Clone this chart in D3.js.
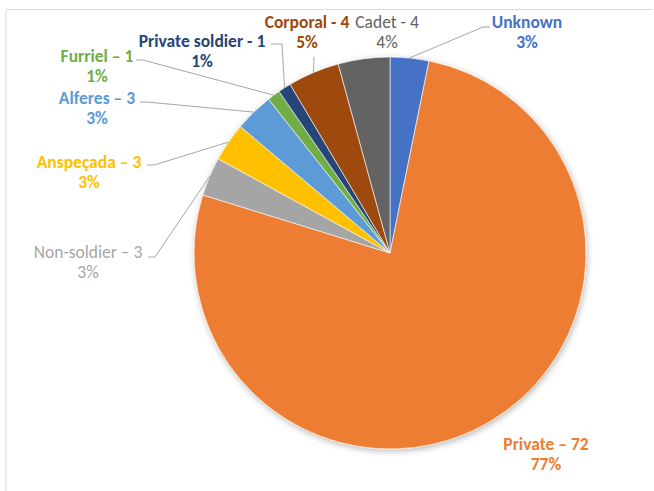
<!DOCTYPE html>
<html>
<head>
<meta charset="utf-8">
<script src="https://cdn.jsdelivr.net/npm/d3@7"></script>
<style>
  body { margin: 0; background: #fff; }
  text { font-family: Carlito, "Liberation Sans Narrow", "Open Sans", sans-serif; font-size: 17.5px; }
</style>
</head>
<body>
<div id="chart"></div>
<script>
// data, clockwise from 12 o'clock
var categories = ["Unknown", "Private", "Non-soldier", "Anspeçada", "Alferes", "Furriel", "Private soldier", "Corporal", "Cadet"];
var values = [3, 72, 3, 3, 3, 1, 1, 4, 4];
var name_labels = ["Unknown", "Private – 72", "Non-soldier – 3", "Anspeçada – 3", "Alferes – 3", "Furriel – 1", "Private soldier - 1", "Corporal - 4", "Cadet - 4"];
var pct_labels = ["3%", "77%", "3%", "3%", "3%", "1%", "1%", "5%", "4%"];
var colors = ["#4472C4", "#ED7D31", "#A5A5A5", "#FFC000", "#5B9BD5", "#70AD47", "#264478", "#9E480E", "#636363"];

// label placement (centre of first line) and leader line start
var label_pos = {
  "Unknown":         {x: 527, y: 22, bold: true,  lead: [[490, 27], [483, 27]]},
  "Private":         {x: 546, y: 444, bold: true, lead: null},
  "Non-soldier":     {x: 88,  y: 252, bold: false, lead: [[148, 257], [155, 257]]},
  "Anspeçada":       {x: 89,  y: 162, bold: true, lead: [[147, 165], [154, 165]]},
  "Alferes":         {x: 97,  y: 98,  bold: true, lead: [[140, 102], [147, 102]]},
  "Furriel":         {x: 97,  y: 56,  bold: true, lead: [[136, 60], [143, 60]]},
  "Private soldier": {x: 202, y: 41,  bold: true, lead: [[271, 44], [282, 44]]},
  "Corporal":        {x: 307, y: 22,  bold: true, lead: [[314, 57]]},
  "Cadet":           {x: 387, y: 22,  bold: false, lead: null}
};
var line_gap = 20;

var width = 654, height = 491;
var cx = 390, cy = 253, radius = 196;

var svg = d3.select("#chart").append("svg")
    .attr("width", width)
    .attr("height", height);

// frame
svg.append("line").attr("x1", 6).attr("y1", 9.5).attr("x2", 653).attr("y2", 9.5)
    .attr("stroke", "#d9d9d9").attr("stroke-width", 1);
svg.append("line").attr("x1", 6).attr("y1", 9.5).attr("x2", 6).attr("y2", height)
    .attr("stroke", "#d9d9d9").attr("stroke-width", 1);

var defs = svg.append("defs");
var shadow = defs.append("filter").attr("id", "shadow")
    .attr("x", "-10%").attr("y", "-10%").attr("width", "120%").attr("height", "120%");
shadow.append("feDropShadow")
    .attr("dx", 1).attr("dy", 2).attr("stdDeviation", 3)
    .attr("flood-color", "#000").attr("flood-opacity", 0.28);

var data = categories.map(function(c, i) {
  return {name: c, value: values[i], label: name_labels[i], pct: pct_labels[i], color: colors[i]};
});

var pie = d3.pie().sort(null).value(d => d.value);
var arc = d3.arc().innerRadius(0).outerRadius(radius);
var edge_arc = d3.arc().innerRadius(radius).outerRadius(radius);

var arcs = pie(data);

var g = svg.append("g").attr("transform", "translate(" + cx + "," + cy + ")");

g.append("g").attr("filter", "url(#shadow)")
  .selectAll("path")
  .data(arcs)
  .join("path")
    .attr("d", arc)
    .attr("fill", d => d.data.color)
    .attr("stroke", "#fff")
    .attr("stroke-width", 0.6);

// leader lines
arcs.forEach(function(d) {
  var p = label_pos[d.data.name];
  if (!p.lead) return;
  var end = edge_arc.centroid(d);
  var pts = p.lead.concat([[end[0] + cx, end[1] + cy]]);
  svg.append("polyline")
      .attr("points", pts.map(q => q.join(",")).join(" "))
      .attr("fill", "none")
      .attr("stroke", "#a6a6a6")
      .attr("stroke-width", 1);
});

// labels
var labels = svg.append("g");
arcs.forEach(function(d) {
  var p = label_pos[d.data.name];
  var t = labels.append("text")
      .attr("text-anchor", "middle")
      .attr("fill", d.data.color)
      .attr("font-weight", p.bold ? "bold" : "normal");
  t.append("tspan").attr("x", p.x).attr("y", p.y).attr("dy", "0.35em").text(d.data.label);
  t.append("tspan").attr("x", p.x).attr("y", p.y + line_gap).attr("dy", "0.35em").text(d.data.pct);
});
</script>
</body>
</html>
